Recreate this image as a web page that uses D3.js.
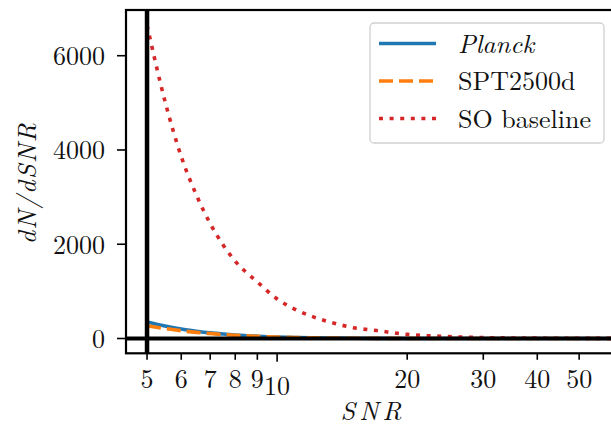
<!DOCTYPE html>
<html><head><meta charset="utf-8">
<script src="https://cdn.jsdelivr.net/npm/d3@7/dist/d3.min.js"></script>
<style>body{margin:0;background:#fff}svg{display:block}</style>
</head><body><svg id="c" width="611" height="428"></svg>
<script>
const snr = [5, 5.5, 6, 6.5, 7, 7.5, 8, 9, 10, 11, 12, 13, 14, 15, 17, 20, 25, 30, 40, 60];
const planck = [350, 265, 200, 155, 120, 95, 75, 48, 30, 21, 14, 10, 7, 5, 3, 1.5, 0.6, 0.3, 0.1, 0];
const spt = [270, 212, 165, 130, 105, 84, 68, 45, 30, 21, 14, 10, 8, 6, 3.5, 2, 1, 0.5, 0.2, 0];
const so = [6650, 5040, 3860, 3050, 2440, 1985, 1640, 1200, 840, 620, 475, 370, 290, 230, 168, 88, 40, 20, 8, 2];
const seriesNames = ["Planck", "SPT2500d", "SO baseline"];
const xTicks = [5, 6, 7, 8, 9, 10, 20, 30, 40, 50];
const yTicks = [0, 2000, 4000, 6000];

const svg = d3.select("#c");
const L = 126, R = 614, T = 10, B = 353.3;
const x = d3.scaleLog().domain([4.47, 60.2]).range([L, R]);
const y = d3.scaleLinear().domain([-314, 6970]).range([B, T]);
const fs = "26px";
const FF = "'Latin Modern Roman', 'Liberation Serif', serif";
const txt = (g) => g.append("text").style("font-family", FF).style("font-size", fs).style("fill", "#111");

svg.append("clipPath").attr("id","pc").append("rect").attr("x",L).attr("y",T).attr("width",R-L).attr("height",B-T);
const plot = svg.append("g").attr("clip-path","url(#pc)");
const styles = [
  {data: planck, color: "#1f77b4", dash: null},
  {data: spt, color: "#ff7f0e", dash: "14,6"},
  {data: so, color: "#d62728", dash: "4,6.6"}
];
const curve = d3.line().x((d,i)=>x(snr[i])).y(d=>y(d)).curve(d3.curveMonotoneX);
styles.forEach(s=>{
  plot.append("path").attr("d", curve(s.data)).attr("fill","none")
    .attr("stroke", s.color).attr("stroke-width", 3.6)
    .attr("stroke-dasharray", s.dash);
});
plot.append("line").attr("x1",x(5)).attr("x2",x(5)).attr("y1",T).attr("y2",B).attr("stroke","#000").attr("stroke-width",4.5);
plot.append("line").attr("x1",L).attr("x2",R).attr("y1",y(0)).attr("y2",y(0)).attr("stroke","#000").attr("stroke-width",4);

svg.append("rect").attr("x",L).attr("y",T).attr("width",R-L).attr("height",B-T).attr("fill","none").attr("stroke","#000").attr("stroke-width",2.2);

xTicks.forEach(t=>{
  const major = (t===10);
  svg.append("line").attr("x1",x(t)).attr("x2",x(t)).attr("y1",B).attr("y2",B+(major?8.5:6.5)).attr("stroke","#000").attr("stroke-width",1.6);
  txt(svg).attr("x",x(t)).attr("y", major?395:388).attr("text-anchor","middle").text(t);
});
yTicks.forEach(t=>{
  svg.append("line").attr("x1",L-9).attr("x2",L).attr("y1",y(t)).attr("y2",y(t)).attr("stroke","#000").attr("stroke-width",1.6);
  txt(svg).attr("x",L-21).attr("y",y(t)+9.5).attr("text-anchor","end").text(t);
});
txt(svg).attr("x",(L+R)/2+3).attr("y",420).attr("text-anchor","middle")
  .style("font-style","italic").style("letter-spacing","4px").text("SNR");
txt(svg).attr("transform","translate(36,183) rotate(-90)").attr("text-anchor","middle")
  .style("font-style","italic").style("letter-spacing","1.5px").text("dN/dSNR");

const lg = svg.append("g");
lg.append("rect").attr("x",370).attr("y",23).attr("width",234).attr("height",120).attr("rx",4)
  .attr("fill","#fff").attr("fill-opacity",0.85).attr("stroke","#d0d0d0").attr("stroke-width",1.3);
const ly = [43.5, 81, 118.5];
styles.forEach((s,i)=>{
  lg.append("line").attr("x1",379).attr("x2",436).attr("y1",ly[i]).attr("y2",ly[i])
    .attr("stroke",s.color).attr("stroke-width",3.6).attr("stroke-dasharray",s.dash);
  const t = txt(lg).attr("x",458).attr("y",ly[i]+9).text(seriesNames[i]);
  if (i===0) t.style("font-style","italic");
});
</script></body></html>
